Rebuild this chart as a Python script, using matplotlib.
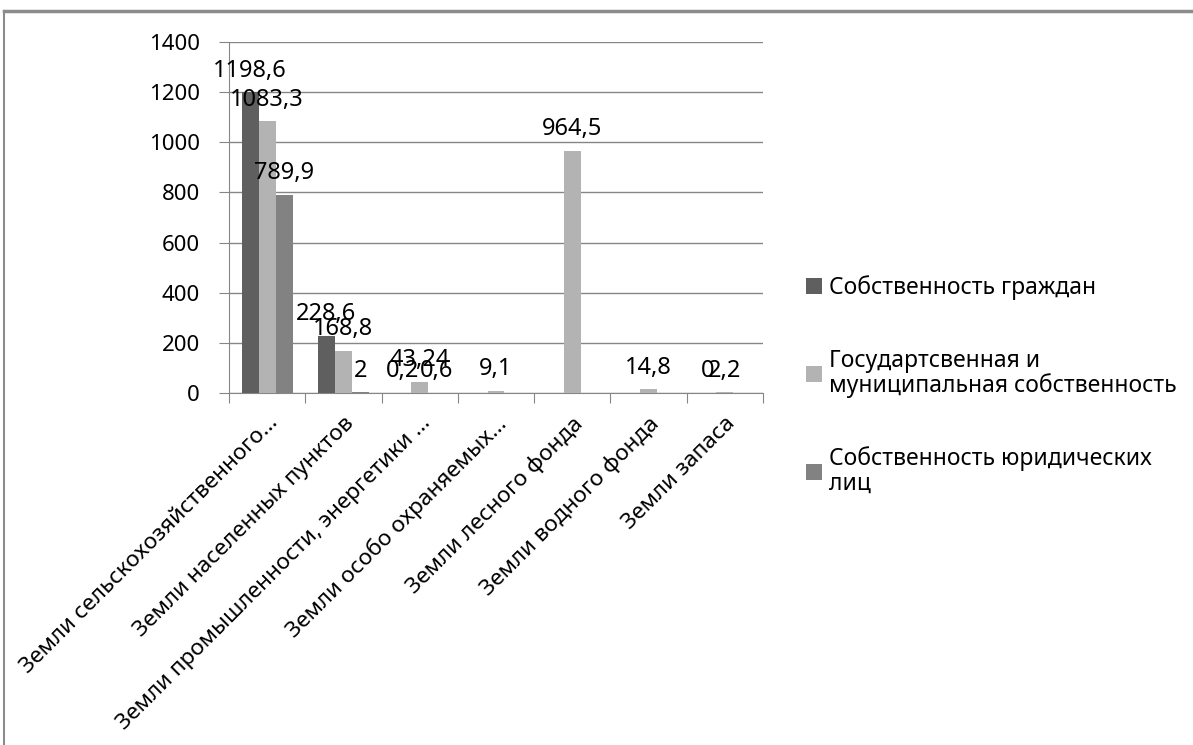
import matplotlib
matplotlib.use("Agg")
import matplotlib.pyplot as plt
from matplotlib.lines import Line2D
import numpy as np

plt.rcParams['font.family'] = ['Noto Sans', 'DejaVu Sans']

categories = ["Земли сельскохозяйственного…", "Земли населенных пунктов",
              "Земли промышленности, энергетики …", "Земли особо охраняемых…",
              "Земли лесного фонда", "Земли водного фонда", "Земли запаса"]
series_names = ["Собственность граждан",
                "Государтсвенная и\nмуниципальная собственность",
                "Собственность юридических\nлиц"]
citizens = [1198.6, 228.6, 0.2, np.nan, np.nan, np.nan, 0]
state = [1083.3, 168.8, 43.24, 9.1, 964.5, 14.8, 2.2]
legal = [789.9, 2, 0.6, np.nan, np.nan, np.nan, np.nan]
colors = ["#5f5f5f", "#b3b3b3", "#828282"]
yticks = [0, 200, 400, 600, 800, 1000, 1200, 1400]

gray = "#868686"

fig = plt.figure(figsize=(11.93, 7.45), dpi=100)
ax = fig.add_axes([229 / 1193, 1 - 393 / 745, 534 / 1193, 351 / 745])

x = np.arange(len(categories))
w = 1 / 4.5
for i, (vals, col, name) in enumerate(zip([citizens, state, legal], colors, series_names)):
    pos = x + (i - 1) * w
    ax.bar(pos, vals, width=w, color=col, label=name, zorder=3)
    for xp, v in zip(pos, vals):
        if np.isnan(v):
            continue
        txt = ("%g" % v).replace(".", ",")
        ax.annotate(txt, (xp, v), xytext=(0, 7), textcoords="offset points",
                    ha="center", va="bottom", fontsize=17, color="black", zorder=4)

ax.set_xlim(-0.5, len(categories) - 0.5)
ax.set_ylim(0, 1400)
ax.set_yticks(yticks)
ax.set_yticklabels([str(t) for t in yticks], fontsize=16)
ax.yaxis.grid(True, color=gray, linewidth=1, zorder=0)
ax.set_axisbelow(True)

ax.set_xticks(np.arange(len(categories) + 1) - 0.5, minor=False)
ax.set_xticklabels([])
ax.set_xticks(x, minor=True)
ax.set_xticklabels(categories, minor=True, rotation=45, ha="right",
                   rotation_mode="anchor", fontsize=16.3)
ax.tick_params(axis="x", which="minor", length=0, pad=14)
ax.tick_params(axis="x", which="major", length=7, color=gray, direction="out")
ax.tick_params(axis="y", length=7, color=gray, pad=14)

for s in ["top", "right"]:
    ax.spines[s].set_visible(False)
for s in ["left", "bottom"]:
    ax.spines[s].set_color(gray)

leg = fig.legend(loc="upper left", bbox_to_anchor=(785 / 1193, 1 - 255 / 745),
                 frameon=False, fontsize=16.5, handlelength=0.7, handleheight=0.7,
                 handletextpad=0.3, labelspacing=2.1)
for t in leg.get_texts():
    t.set_linespacing(1.05)

# outer chart frame
fig.add_artist(Line2D([4 / 1193, 1], [1 - 11 / 745, 1 - 11 / 745], color="#8c8c8c", lw=2.5))
fig.add_artist(Line2D([4 / 1193, 4 / 1193], [0, 1 - 11 / 745], color="#8c8c8c", lw=1.5))

fig.savefig("out.png", dpi=100)
